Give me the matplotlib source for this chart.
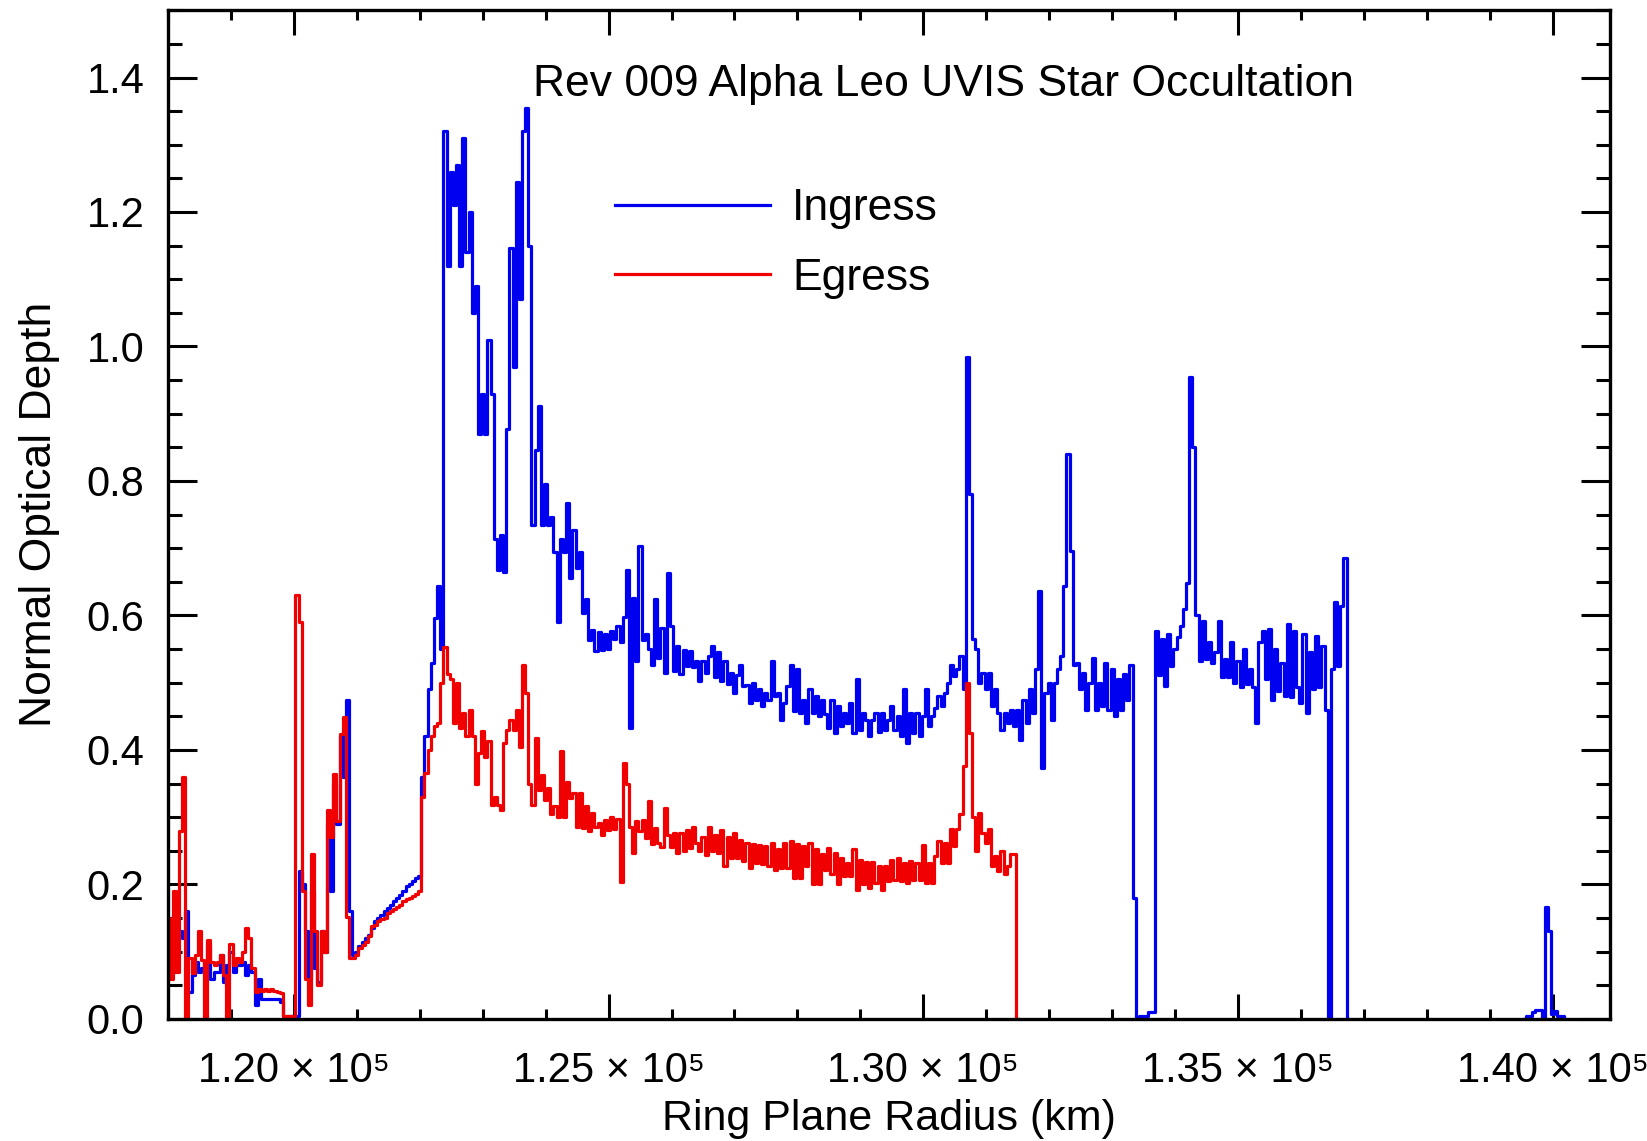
import numpy as np
import matplotlib
matplotlib.use("Agg")
import matplotlib.pyplot as plt
from matplotlib.ticker import MultipleLocator, FixedLocator, FixedFormatter

# --- data (50 km radial bins) ---
BIN_KM = 50.0
INGRESS_START_KM = 118000.0
EGRESS_START_KM = 118000.0
FAR_START_KM = 139550.0

tau_ingress = [
    # 118000
    0.11, 0.07, 0.07, 0.12, 0.13, 0.12, 0.16, 0.04, 0.065, 0.085, 0.07, 0.075, 0.085, 0.11, 0.06, 0.07, 0.07, 0.095, 0.055, 0.08,
    # 119000
    0.10, 0.07, 0.08, 0.08, 0.085, 0.065, 0.08, 0.07, 0.02, 0.06, 0.03, 0.03, 0.03, 0.03, 0.03, 0.03, 0.025, 0.004, 0.004, 0.004,
    # 120000
    0.004, 0.004, 0.22, 0.2, 0.13, 0.06, 0.19, 0.075, 0.055, 0.13, 0.1, 0.29, 0.19, 0.35, 0.29, 0.42, 0.36, 0.475, 0.16, 0.095,
    # 121000
    0.1, 0.108, 0.115, 0.12, 0.125, 0.135, 0.145, 0.15, 0.155, 0.16, 0.165, 0.17, 0.175, 0.18, 0.185, 0.19, 0.197, 0.2, 0.205, 0.21,
    # 122000
    0.212, 0.36, 0.42, 0.49, 0.53, 0.596, 0.644, 0.55, 1.32, 1.12, 1.26, 1.21, 1.27, 1.12, 1.31, 1.14, 1.20, 1.05, 1.09, 0.87,
    # 123000
    0.93, 0.87, 1.01, 0.93, 0.713, 0.667, 0.72, 0.664, 0.878, 1.146, 0.969, 1.245, 1.07, 1.32, 1.354, 1.15, 0.735, 0.846, 0.912, 0.735,
    # 124000
    0.795, 0.735, 0.747, 0.695, 0.59, 0.713, 0.695, 0.767, 0.656, 0.727, 0.67, 0.695, 0.604, 0.624, 0.564, 0.579, 0.547, 0.576, 0.549, 0.572,
    # 125000
    0.55, 0.577, 0.565, 0.584, 0.56, 0.597, 0.668, 0.433, 0.626, 0.532, 0.704, 0.564, 0.572, 0.55, 0.527, 0.624, 0.537, 0.582, 0.515, 0.663,
    # 126000
    0.584, 0.517, 0.554, 0.513, 0.549, 0.525, 0.547, 0.524, 0.532, 0.502, 0.532, 0.515, 0.539, 0.554, 0.508, 0.545, 0.503, 0.532, 0.498, 0.515,
    # 127000
    0.485, 0.512, 0.527, 0.495, 0.497, 0.47, 0.5, 0.475, 0.49, 0.465, 0.485, 0.475, 0.532, 0.48, 0.485, 0.445, 0.47, 0.495, 0.527, 0.458,
    # 128000
    0.52, 0.455, 0.475, 0.44, 0.49, 0.455, 0.48, 0.45, 0.475, 0.453, 0.433, 0.475, 0.425, 0.465, 0.436, 0.455, 0.44, 0.47, 0.425, 0.505,
    # 129000
    0.43, 0.455, 0.445, 0.42, 0.445, 0.455, 0.426, 0.455, 0.43, 0.445, 0.465, 0.43, 0.45, 0.42, 0.49, 0.41, 0.455, 0.425, 0.455, 0.42,
    # 130000
    0.45, 0.49, 0.436, 0.45, 0.463, 0.48, 0.465, 0.485, 0.5, 0.527, 0.51, 0.52, 0.54, 0.49, 0.985, 0.78, 0.565, 0.55, 0.5, 0.515,
    # 131000
    0.49, 0.515, 0.465, 0.49, 0.455, 0.43, 0.455, 0.44, 0.46, 0.435, 0.46, 0.415, 0.475, 0.44, 0.49, 0.455, 0.52, 0.636, 0.373, 0.485,
    # 132000
    0.5, 0.445, 0.5, 0.52, 0.54, 0.644, 0.84, 0.696, 0.527, 0.53, 0.49, 0.515, 0.46, 0.5, 0.537, 0.46, 0.5, 0.465, 0.53, 0.46,
    # 133000
    0.52, 0.45, 0.505, 0.46, 0.513, 0.475, 0.527, 0.18, 0.0, 0.004, 0.004, 0.004, 0.01, 0.01, 0.577, 0.512, 0.565, 0.495, 0.572, 0.525,
    # 134000
    0.55, 0.568, 0.585, 0.609, 0.649, 0.954, 0.85, 0.6, 0.532, 0.592, 0.535, 0.56, 0.53, 0.545, 0.592, 0.508, 0.535, 0.508, 0.56, 0.5,
    # 135000
    0.532, 0.493, 0.55, 0.498, 0.52, 0.493, 0.44, 0.56, 0.577, 0.505, 0.58, 0.475, 0.55, 0.488, 0.53, 0.48, 0.587, 0.478, 0.577, 0.493,
    # 136000
    0.47, 0.572, 0.455, 0.545, 0.49, 0.57, 0.493, 0.555, 0.46, 0.0, 0.52, 0.62, 0.525, 0.614, 0.686, 0.0,
]

tau_ingress_far = [0.0, 0.004, 0.004, 0.01, 0.013, 0.013, 0.0, 0.167, 0.13, 0.008, 0.012, 0.004, 0.004, 0.0]

tau_egress = [
    # 118000
    0.15, 0.06, 0.19, 0.07, 0.28, 0.36, 0.0, 0.09, 0.068, 0.095, 0.13, 0.088, 0.0, 0.117, 0.085, 0.08, 0.085, 0.095, 0.065, 0.0,
    # 119000
    0.112, 0.08, 0.09, 0.085, 0.1, 0.135, 0.12, 0.075, 0.04, 0.045, 0.042, 0.045, 0.042, 0.045, 0.042, 0.04, 0.038, 0.004, 0.004, 0.004,
    # 120000
    0.004, 0.63, 0.59, 0.19, 0.06, 0.02, 0.245, 0.13, 0.05, 0.13, 0.1, 0.31, 0.27, 0.364, 0.295, 0.423, 0.449, 0.151, 0.09, 0.09,
    # 121000
    0.095, 0.105, 0.11, 0.115, 0.123, 0.138, 0.14, 0.145, 0.148, 0.15, 0.157, 0.16, 0.163, 0.166, 0.17, 0.175, 0.178, 0.18, 0.183, 0.186,
    # 122000
    0.19, 0.33, 0.365, 0.4, 0.42, 0.435, 0.44, 0.5, 0.553, 0.513, 0.505, 0.44, 0.5, 0.433, 0.455, 0.42, 0.46, 0.42, 0.35, 0.395,
    # 123000
    0.428, 0.39, 0.413, 0.318, 0.33, 0.318, 0.31, 0.41, 0.43, 0.445, 0.43, 0.46, 0.405, 0.527, 0.485, 0.35, 0.318, 0.418, 0.34, 0.363,
    # 124000
    0.326, 0.343, 0.304, 0.316, 0.3, 0.398, 0.301, 0.353, 0.328, 0.336, 0.286, 0.336, 0.284, 0.316, 0.279, 0.306, 0.286, 0.291, 0.274, 0.296,
    # 125000
    0.281, 0.301, 0.283, 0.298, 0.204, 0.38, 0.35, 0.286, 0.247, 0.294, 0.28, 0.296, 0.269, 0.324, 0.26, 0.284, 0.262, 0.255, 0.314, 0.274,
    # 126000
    0.256, 0.276, 0.247, 0.276, 0.25, 0.281, 0.254, 0.286, 0.262, 0.249, 0.27, 0.244, 0.286, 0.25, 0.274, 0.247, 0.281, 0.227, 0.27, 0.239,
    # 127000
    0.276, 0.24, 0.266, 0.235, 0.262, 0.224, 0.26, 0.232, 0.259, 0.23, 0.257, 0.227, 0.262, 0.222, 0.252, 0.225, 0.262, 0.225, 0.264, 0.21,
    # 128000
    0.26, 0.21, 0.257, 0.227, 0.262, 0.2, 0.252, 0.2, 0.245, 0.222, 0.254, 0.215, 0.247, 0.2, 0.24, 0.212, 0.232, 0.212, 0.252, 0.192,
    # 129000
    0.237, 0.2, 0.234, 0.195, 0.234, 0.202, 0.227, 0.192, 0.227, 0.205, 0.237, 0.207, 0.24, 0.205, 0.232, 0.202, 0.235, 0.207, 0.232, 0.207,
    # 130000
    0.259, 0.202, 0.232, 0.202, 0.242, 0.264, 0.232, 0.262, 0.232, 0.282, 0.257, 0.282, 0.304, 0.376, 0.5, 0.425, 0.3, 0.25, 0.306, 0.277,
    # 131000
    0.262, 0.282, 0.227, 0.242, 0.22, 0.249, 0.215, 0.227, 0.245, 0.245, 0.0,
]

x_major = [120000, 125000, 130000, 135000, 140000]
x_labels = ["1.20 \u00d7 10\u2075", "1.25 \u00d7 10\u2075", "1.30 \u00d7 10\u2075",
            "1.35 \u00d7 10\u2075", "1.40 \u00d7 10\u2075"]
y_major = [0.0, 0.2, 0.4, 0.6, 0.8, 1.0, 1.2, 1.4]
y_labels = ["0.0", "0.2", "0.4", "0.6", "0.8", "1.0", "1.2", "1.4"]

title = "Rev 009 Alpha Leo UVIS Star Occultation"
series_names = ["Ingress", "Egress"]

BLUE = "#0000f0"
RED = "#f00000"

plt.rcParams["font.family"] = ["Liberation Sans", "DejaVu Sans"]

r_in = INGRESS_START_KM + BIN_KM * np.arange(len(tau_ingress))
r_far = FAR_START_KM + BIN_KM * np.arange(len(tau_ingress_far))
r_eg = EGRESS_START_KM + BIN_KM * np.arange(len(tau_egress))

fig = plt.figure(figsize=(16.47, 11.41), dpi=100)
ax = fig.add_axes([0.102, 0.107, 0.8755, 0.884])

lw = 2.3
h_in, = ax.plot(r_in, tau_ingress, drawstyle="steps-mid", color=BLUE, lw=lw, label=series_names[0])
ax.plot(r_far, tau_ingress_far, drawstyle="steps-mid", color=BLUE, lw=lw)
h_eg, = ax.plot(r_eg, tau_egress, drawstyle="steps-mid", color=RED, lw=lw, label=series_names[1])

ax.set_xlim(118000, 140910)
ax.set_ylim(0, 1.5)

ax.xaxis.set_major_locator(FixedLocator(x_major))
ax.xaxis.set_major_formatter(FixedFormatter(x_labels))
ax.xaxis.set_minor_locator(MultipleLocator(1000))
ax.yaxis.set_major_locator(FixedLocator(y_major))
ax.yaxis.set_major_formatter(FixedFormatter(y_labels))
ax.yaxis.set_minor_locator(MultipleLocator(0.05))

ax.tick_params(axis="both", which="both", direction="in", top=True, right=True, width=2.2, colors="black")
ax.tick_params(axis="x", which="major", length=18, pad=23, labelsize=30)
ax.tick_params(axis="x", which="minor", length=7)
ax.tick_params(axis="y", which="major", length=21, pad=17, labelsize=30)
ax.tick_params(axis="y", which="minor", length=10)
for s in ax.spines.values():
    s.set_linewidth(2.4)

ax.set_xlabel("Ring Plane Radius (km)", fontsize=31)
ax.set_ylabel("Normal Optical Depth", fontsize=32)
ax.xaxis.set_label_coords(0.5, -0.079)
ax.yaxis.set_label_coords(-0.075, 0.5)

ax.text(0.538, 0.9146, title, transform=ax.transAxes, ha="center", va="baseline", fontsize=32)

ax.legend(handles=[h_in, h_eg], loc="upper left", bbox_to_anchor=(0.31, 0.8236),
          frameon=False, fontsize=32, handlelength=3.49, handletextpad=0.5,
          labelspacing=0.645, borderpad=0, borderaxespad=0)

fig.savefig("out.png", dpi=100)
